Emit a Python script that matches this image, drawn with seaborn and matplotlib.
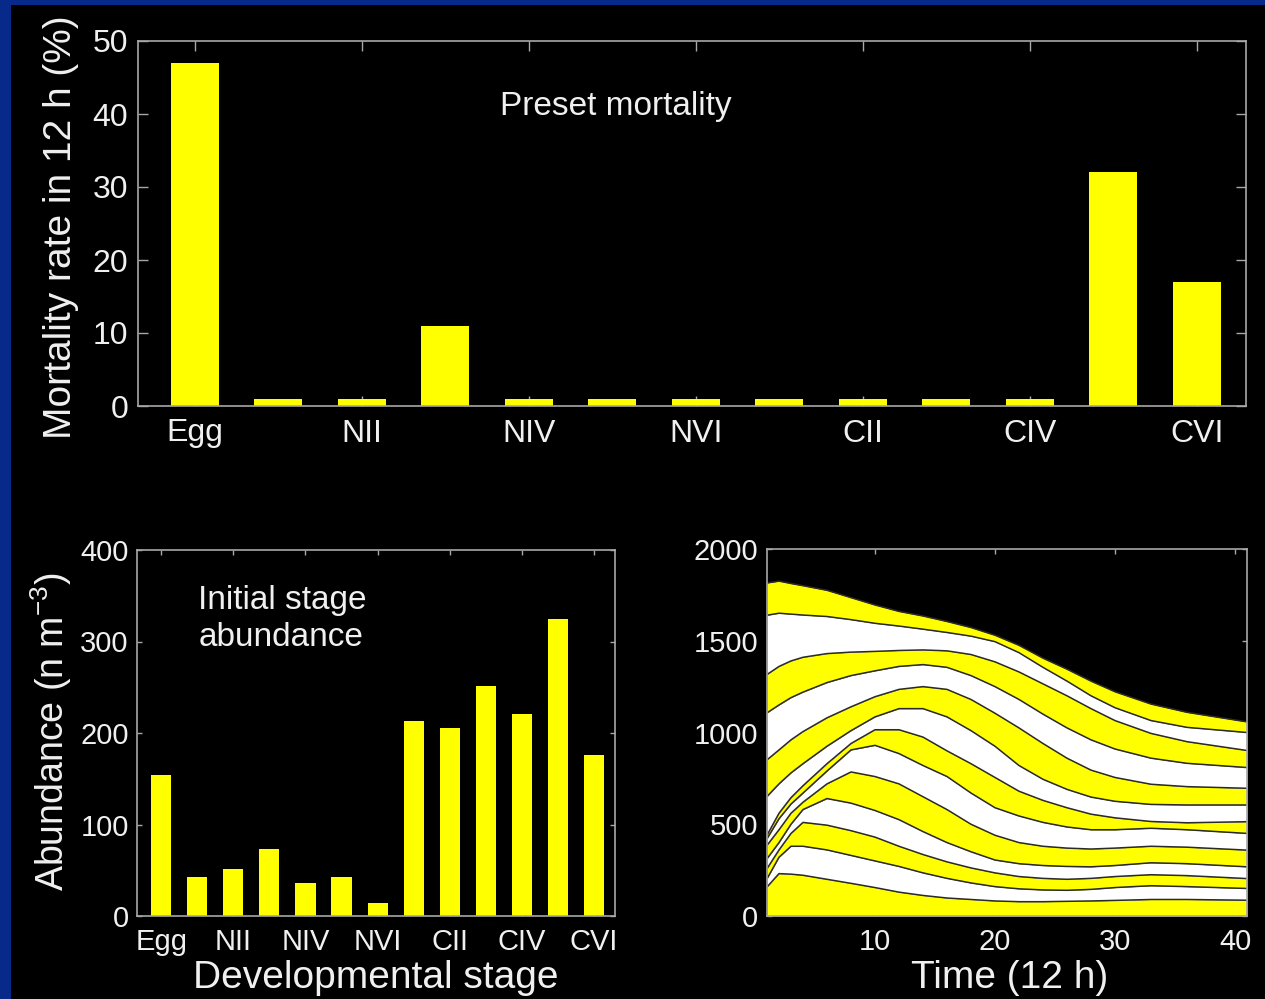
import numpy as np
import pandas as pd
import matplotlib
matplotlib.use("Agg")
import matplotlib.pyplot as plt
import seaborn as sns
from matplotlib.patches import Rectangle

# ---------------- data ----------------
stages = ['Egg', 'NI', 'NII', 'NIII', 'NIV', 'NV', 'NVI',
          'CI', 'CII', 'CIII', 'CIV', 'CV', 'CVI']
tick_stages = ['Egg', 'NII', 'NIV', 'NVI', 'CII', 'CIV', 'CVI']
mortality = [47, 1, 1, 11, 1, 1, 1, 1, 1, 1, 1, 32, 17]
abundance = [154, 43, 51, 73, 36, 43, 14, 213, 206, 251, 221, 325, 176]

time_steps = [1, 2, 3, 4, 6, 8, 10, 12, 14, 16, 18, 20, 22, 24, 26, 28, 30, 33, 36, 41]
# cumulative stage abundance (upper edge of each stacked band, Egg first)
cum_egg  = [158, 231, 228, 222, 200, 178, 155, 130, 112, 98, 90, 82, 78, 78, 80, 82, 85, 90, 90, 86]
cum_n1   = [203, 320, 380, 380, 360, 330, 300, 270, 235, 205, 180, 160, 148, 142, 140, 145, 155, 165, 160, 150]
cum_n2   = [258, 360, 450, 510, 495, 465, 430, 380, 335, 295, 262, 235, 215, 205, 200, 205, 215, 225, 220, 204]
cum_n3   = [312, 400, 500, 580, 640, 615, 575, 525, 460, 400, 350, 305, 285, 275, 270, 268, 275, 290, 285, 268]
cum_n4   = [385, 470, 560, 620, 720, 785, 760, 720, 650, 580, 500, 440, 400, 380, 370, 365, 370, 380, 375, 359]
cum_n5   = [421, 530, 610, 670, 790, 905, 930, 885, 820, 760, 670, 590, 545, 510, 485, 470, 470, 478, 470, 450]
cum_n6   = [440, 560, 645, 710, 830, 940, 1015, 1015, 975, 900, 830, 755, 680, 630, 590, 555, 535, 515, 508, 514]
cum_c1   = [651, 720, 780, 830, 925, 1010, 1085, 1130, 1130, 1085, 1010, 925, 820, 745, 690, 648, 625, 608, 605, 605]
cum_c2   = [851, 905, 960, 1005, 1080, 1140, 1195, 1235, 1250, 1235, 1180, 1105, 1025, 940, 860, 795, 755, 718, 705, 696]
cum_c3   = [1107, 1150, 1190, 1220, 1272, 1310, 1336, 1360, 1370, 1355, 1310, 1250, 1180, 1100, 1025, 960, 910, 860, 832, 809]
cum_c4   = [1316, 1360, 1390, 1410, 1430, 1438, 1442, 1447, 1450, 1445, 1425, 1385, 1330, 1265, 1200, 1130, 1065, 995, 950, 902]
cum_c5   = [1639, 1650, 1645, 1640, 1632, 1615, 1595, 1580, 1563, 1545, 1525, 1495, 1435, 1355, 1280, 1200, 1135, 1065, 1028, 1000]
cum_c6   = [1815, 1825, 1812, 1800, 1775, 1735, 1695, 1660, 1635, 1605, 1572, 1530, 1475, 1405, 1345, 1280, 1222, 1155, 1110, 1058]

# ---------------- style ----------------
sns.set_style("dark")
plt.rcParams['font.family'] = ['Liberation Sans', 'DejaVu Sans']
plt.rcParams['mathtext.fontset'] = 'custom'
plt.rcParams['mathtext.rm'] = 'Liberation Sans'
plt.rcParams['mathtext.it'] = 'Liberation Sans:italic'
plt.rcParams['mathtext.bf'] = 'Liberation Sans:bold'
plt.rcParams['axes.unicode_minus'] = False

BLUE = '#06298a'
YEL = '#ffff00'
FG = '#f0f0f0'
SPINE = '#a8a8a8'
W, H = 1265, 999

fig = plt.figure(figsize=(W / 100, H / 100), dpi=100, facecolor=BLUE)
fig.patches.append(Rectangle((11 / W, 0), 1, (H - 5) / H, transform=fig.transFigure,
                             facecolor='black', edgecolor='none', zorder=-5))


def box(l, t, r, b):
    return [l / W, 1 - b / H, (r - l) / W, (b - t) / H]


def style(ax, fs, tl, xpad, ypad):
    ax.set_facecolor('black')
    ax.grid(False)
    for s in ax.spines.values():
        s.set_visible(True)
        s.set_color(SPINE)
        s.set_linewidth(1.2)
    ax.tick_params(axis='both', direction='in', length=tl, width=1.0, color=SPINE,
                   labelcolor=FG, labelsize=fs, top=True, right=True,
                   bottom=True, left=True)
    ax.tick_params(axis='x', pad=xpad)
    ax.tick_params(axis='y', pad=ypad)
    ax.set_xlabel('')
    ax.set_ylabel('')


# ---------------- top: preset mortality ----------------
ax1 = fig.add_axes(box(138, 41, 1246, 406))
df1 = pd.DataFrame({'stage': stages, 'mortality': mortality})
sns.barplot(data=df1, x='stage', y='mortality', order=stages, color=YEL,
            saturation=1, width=0.58, edgecolor='none', ax=ax1)
ax1.set_xlim(-0.68, 12.59)
ax1.set_ylim(0, 50)
ax1.set_xticks(range(0, 13, 2))
ax1.set_xticklabels(tick_stages)
ax1.set_yticks(range(0, 51, 10))
style(ax1, 23, 7.5, 9, 7)
ax1.text(0.431, 0.797, 'Preset mortality', transform=ax1.transAxes, ha='center',
         va='baseline', color=FG, fontsize=24)
fig.text(61 / W, 1 - 227 / H, 'Mortality rate in 12 h (%)', rotation=90,
         ha='center', va='center', color=FG, fontsize=28)

# ---------------- bottom-left: initial abundance ----------------
ax2 = fig.add_axes(box(137, 550, 615, 916))
df2 = pd.DataFrame({'stage': stages, 'abundance': abundance})
sns.barplot(data=df2, x='stage', y='abundance', order=stages, color=YEL,
            saturation=1, width=0.56, edgecolor='none', ax=ax2)
ax2.set_xlim(-0.67, 12.58)
ax2.set_ylim(0, 400)
ax2.set_xticks(range(0, 13, 2))
ax2.set_xticklabels(tick_stages)
ax2.set_yticks(range(0, 401, 100))
style(ax2, 21, 3.5, 9, 6)
ax2.text(0.128, 0.905, 'Initial stage\nabundance', transform=ax2.transAxes,
         ha='left', va='top', color=FG, fontsize=24, linespacing=1.25)
fig.text(51 / W, 1 - 732 / H, 'Abundance (n m$^{-3}$)', rotation=90,
         ha='center', va='center', color=FG, fontsize=27)
fig.text(376 / W, 1 - 988 / H, 'Developmental stage', ha='center',
         va='baseline', color=FG, fontsize=28)

# ---------------- bottom-right: stacked abundance over time ----------------
ax3 = fig.add_axes(box(767, 549, 1247, 916))
bounds = [cum_egg, cum_n1, cum_n2, cum_n3, cum_n4, cum_n5, cum_n6,
          cum_c1, cum_c2, cum_c3, cum_c4, cum_c5, cum_c6]
lower = [0] * len(time_steps)
for i, upper in enumerate(bounds):
    ax3.fill_between(time_steps, lower, upper, color=YEL if i % 2 == 0 else 'white',
                     linewidth=0, zorder=1)
    lower = upper
long_df = pd.DataFrame({
    'time': np.tile(time_steps, len(bounds)),
    'value': np.concatenate(bounds),
    'line': np.repeat(np.arange(len(bounds)), len(time_steps)),
})
sns.lineplot(data=long_df, x='time', y='value', units='line', estimator=None,
             color='#2a2a2a', linewidth=1.1, ax=ax3, zorder=2)
ax3.set_xlim(1, 41)
ax3.set_ylim(0, 2000)
ax3.set_xticks([10, 20, 30, 40])
ax3.set_yticks(range(0, 2001, 500))
style(ax3, 21, 3.5, 9, 6.5)
fig.text(1010 / W, 1 - 988 / H, 'Time (12 h)', ha='center', va='baseline',
         color=FG, fontsize=28)

fig.savefig('out.png', dpi=100, facecolor=fig.get_facecolor())
